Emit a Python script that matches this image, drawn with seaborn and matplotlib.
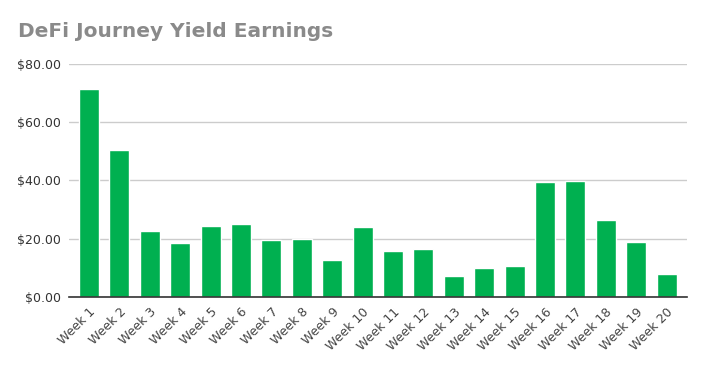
import matplotlib
matplotlib.use("Agg")
import matplotlib.pyplot as plt
import seaborn as sns
import pandas as pd

# weekly yield values
weeks = ["Week %d" % i for i in range(1, 21)]
earnings = [71.4, 50.5, 22.8, 18.7, 24.5, 25.2, 19.7, 20.0, 12.8, 24.1,
            15.9, 16.6, 7.3, 10.0, 10.7, 39.3, 39.7, 26.5, 19.0, 8.0]
y_ticks = [0, 20, 40, 60, 80]

df = pd.DataFrame({"week": weeks, "earnings": earnings})

sns.set_style("white")
plt.rcParams["font.family"] = ["DejaVu Sans"]

fig = plt.figure(figsize=(7.06, 3.67), dpi=100)
ax = fig.add_axes([0.0977, 0.1907, 0.8753, 0.6353])

sns.barplot(data=df, x="week", y="earnings", color="#00b050", width=0.66,
            saturation=1, ax=ax, zorder=3)

ax.set_ylim(0, 80)
ax.set_xlim(-0.66, 19.67)
ax.set_yticks(y_ticks)
ax.set_yticklabels(["$%.2f" % v for v in y_ticks], fontsize=9, color="#333333")
ax.set_xticks(range(len(weeks)))
ax.set_xticklabels(weeks, rotation=45, ha="right", rotation_mode="anchor",
                   fontsize=9, color="#444444")
ax.tick_params(axis="both", length=0, pad=6)
ax.set_xlabel("")
ax.set_ylabel("")

ax.yaxis.grid(True, color="#cccccc", linewidth=1, zorder=0)
for side in ["top", "right", "left"]:
    ax.spines[side].set_visible(False)
ax.spines["bottom"].set_color("#333333")
ax.spines["bottom"].set_linewidth(1.2)
ax.spines["bottom"].set_zorder(4)

fig.text(0.026, 0.913, "DeFi Journey Yield Earnings", fontsize=14.5,
         fontweight="bold", color="#8a8a8a", va="center", ha="left")

fig.savefig("out.png", dpi=100)
